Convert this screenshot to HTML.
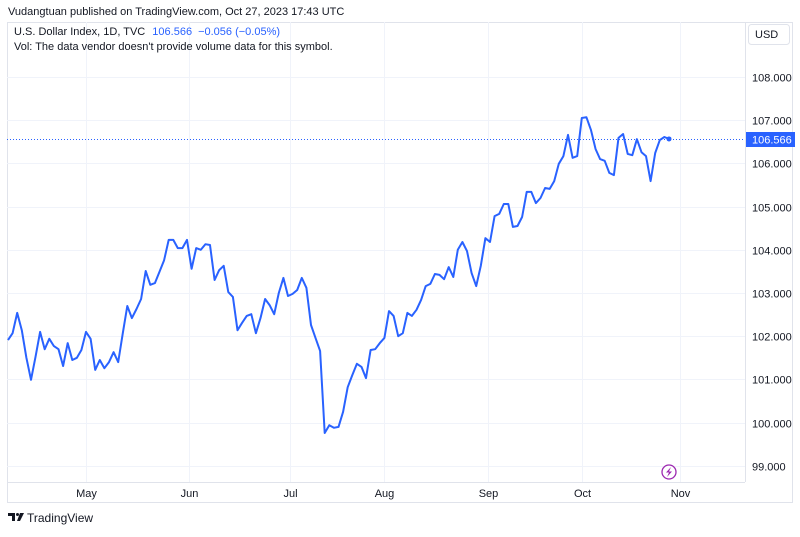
<!DOCTYPE html>
<html><head><meta charset="utf-8"><style>
html,body{margin:0;padding:0;background:#fff;}
body{width:800px;height:532px;overflow:hidden;font-family:"Liberation Sans",sans-serif;}
svg text{font-family:"Liberation Sans",sans-serif;}
</style></head><body>
<svg id="c" width="800" height="532" xmlns="http://www.w3.org/2000/svg">
<text x="8" y="15" font-size="11" fill="#131722">Vudangtuan published on TradingView.com, Oct 27, 2023 17:43 UTC</text>
<rect x="7.5" y="22.5" width="785" height="480" fill="none" stroke="#e0e3eb"/>
<line x1="745.5" y1="22" x2="745.5" y2="482" stroke="#e0e3eb"/>
<line x1="7" y1="482.5" x2="745" y2="482.5" stroke="#e0e3eb"/>
<g id="grid"></g>
<g id="yaxis"></g>
<g id="xaxis"></g>
<path id="line" fill="none" stroke="#2962ff" stroke-width="2" stroke-linejoin="round"/>
<text x="14" y="35" font-size="11" fill="#131722">U.S. Dollar Index, 1D, TVC <tspan fill="#2962ff" dx="4">106.566</tspan><tspan fill="#2962ff" dx="6">−0.056 (−0.05%)</tspan></text>
<text x="14" y="50" font-size="11" fill="#131722">Vol: The data vendor doesn't provide volume data for this symbol.</text>
<rect x="748.5" y="24.5" width="41" height="20" rx="3" fill="#fff" stroke="#e0e3eb"/>
<text x="755" y="38" font-size="11" fill="#131722">USD</text>
<g><circle cx="669" cy="472" r="7" fill="#fff" stroke="#9c27b0" stroke-width="1.3"/><path d="M671 467 L666 472.5 L669 472.5 L667 477 L672 471.5 L669 471.5 Z" fill="#9c27b0"/></g>
<g><path d="M8 513h7v8h-3v-5h-4z" fill="#131722"/><circle cx="17.5" cy="514.5" r="1.5" fill="#131722"/><path d="M20 513h4l-4 8h-3z" fill="#131722"/><text x="27" y="522" font-size="12" fill="#131722">TradingView</text></g>
</svg>
<script>
const values=[101.91,102.07,102.54,102.14,101.50,100.99,101.52,102.10,101.70,101.94,101.77,101.70,101.31,101.84,101.45,101.50,101.68,102.10,101.94,101.22,101.45,101.26,101.40,101.63,101.40,102.07,102.70,102.42,102.63,102.86,103.51,103.19,103.23,103.49,103.76,104.23,104.23,104.04,104.04,104.23,103.56,104.04,104.00,104.13,104.11,103.30,103.53,103.63,103.02,102.91,102.14,102.31,102.47,102.51,102.07,102.42,102.86,102.72,102.51,103.00,103.35,102.93,102.98,103.07,103.35,103.12,102.26,101.96,101.66,99.76,99.94,99.88,99.90,100.25,100.82,101.10,101.36,101.29,101.03,101.68,101.70,101.84,101.96,102.58,102.47,102.00,102.07,102.54,102.47,102.61,102.84,103.16,103.21,103.44,103.42,103.32,103.60,103.37,104.00,104.18,103.97,103.46,103.16,103.63,104.27,104.18,104.78,104.83,105.06,105.06,104.53,104.55,104.76,105.34,105.34,105.08,105.20,105.43,105.41,105.59,105.99,106.17,106.66,106.13,106.17,107.05,107.07,106.77,106.33,106.10,106.06,105.78,105.73,106.59,106.68,106.22,106.19,106.56,106.26,106.17,105.59,106.24,106.54,106.61,106.566];
const yTicks=[108,107,106,105,104,103,102,101,100,99];
const monthLabels=["May","Jun","Jul","Aug","Sep","Oct","Nov"];
const monthIdx=[17,39.5,61.5,82,104.5,125,146.5];
const lastPrice=106.566;
const NS="http://www.w3.org/2000/svg";
const X0=8,X1=669;
function xs(i){return X0+i*(X1-X0)/(values.length-1);}
function ys(v){return 77+(108-v)*43.2;}
function mk(t,a,p){const e=document.createElementNS(NS,t);for(const k in a)e.setAttribute(k,a[k]);p.appendChild(e);return e;}
const grid=document.getElementById('grid'),ya=document.getElementById('yaxis'),xa=document.getElementById('xaxis');
yTicks.forEach(v=>{const y=Math.round(ys(v))+0.5;
 const g=mk('line',{x1:7,x2:745,y1:y,y2:y,stroke:'#f0f3fa'},grid);
 
 
 const t=mk('text',{x:752,y:y+4,'font-size':11,fill:'#131722'},ya);t.textContent=v.toFixed(3);
 
 });
monthLabels.forEach((m,k)=>{const x=Math.round(xs(monthIdx[k]))+0.5;
 const g=mk('line',{x1:x,x2:x,y1:22,y2:482,stroke:'#f0f3fa'},grid);
 
 
 const t=mk('text',{x:x,y:497,'font-size':11,fill:'#131722','text-anchor':'middle'},xa);t.textContent=m;
 
 });
document.getElementById('line').setAttribute('d',values.map((v,i)=>(i?'L':'M')+xs(i).toFixed(1)+' '+ys(v).toFixed(1)).join(''));
const svg=document.getElementById('c');
const ly=Math.round(ys(lastPrice))+0.5;
const pl=mk('line',{x1:7,x2:745,y1:ly,y2:ly,stroke:'#2962ff','stroke-dasharray':'1 2'},svg);


const dot=mk('circle',{cx:xs(values.length-1),cy:ys(values[values.length-1]),r:2.5,fill:'#2962ff'},svg);


const lb=mk('rect',{x:746,y:ly-7.5,width:49,height:15,fill:'#2962ff'},svg);


const lt=mk('text',{x:752,y:ly+4,'font-size':11,fill:'#fff'},svg);lt.textContent=lastPrice.toFixed(3);


</script>
</body></html>
